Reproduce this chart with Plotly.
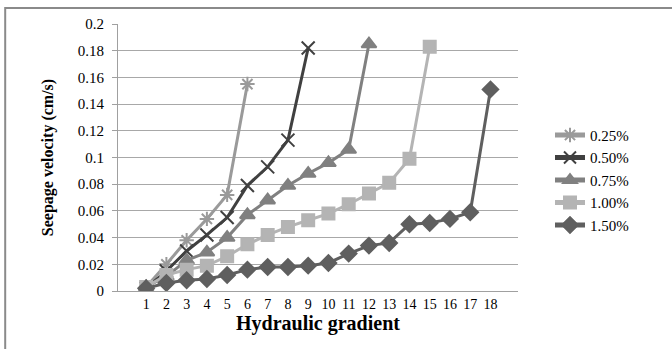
import plotly.graph_objects as go

gradients = list(range(1, 19))
series_names = ["0.25%", "0.50%", "0.75%", "1.00%", "1.50%"]
v_025 = [0.003, 0.020, 0.038, 0.054, 0.072, 0.155]
v_050 = [0.002, 0.015, 0.030, 0.042, 0.055, 0.079, 0.093, 0.113, 0.182]
v_075 = [0.003, 0.011, 0.023, 0.029, 0.040, 0.057, 0.068, 0.079, 0.088, 0.096, 0.106, 0.185]
v_100 = [0.003, 0.012, 0.016, 0.019, 0.026, 0.035, 0.042, 0.048, 0.053, 0.058, 0.065, 0.073, 0.081, 0.099, 0.183]
v_150 = [0.002, 0.006, 0.008, 0.009, 0.012, 0.016, 0.018, 0.018, 0.019, 0.021, 0.028, 0.034, 0.036, 0.050, 0.051, 0.054, 0.059, 0.151]
y_ticks = [0, 0.02, 0.04, 0.06, 0.08, 0.1, 0.12, 0.14, 0.16, 0.18, 0.2]
y_tick_text = ["0", "0.02", "0.04", "0.06", "0.08", "0.1", "0.12", "0.14", "0.16", "0.18", "0.2"]

series = [v_025, v_050, v_075, v_100, v_150]
colors = ["#9a9a9a", "#404040", "#808080", "#b4b4b4", "#5f5f5f"]
symbols = ["asterisk-open", "x-thin-open", "triangle-up", "square", "diamond"]
msizes = [12, 13, 13, 12, 12]

fig = go.Figure()
for name, vals, c, s, ms in zip(series_names, series, colors, symbols, msizes):
    fig.add_trace(go.Scatter(
        x=[str(g) for g in gradients[:len(vals)]], y=vals, name=name, mode="lines+markers",
        line=dict(color=c, width=3),
        marker=dict(symbol=s, size=ms, color=c, line=dict(color=c, width=2)),
    ))

serif = "Liberation Serif"
fig.update_layout(
    width=672, height=349,
    margin=dict(l=118, r=154, t=24, b=58),
    paper_bgcolor="white", plot_bgcolor="white",
    font=dict(family=serif, size=13, color="black"),
    showlegend=True,
    legend=dict(x=1.08, y=0.645, xanchor="left", yanchor="top",
                font=dict(family=serif, size=15), tracegroupgap=0, itemsizing="constant",
                bgcolor="rgba(0,0,0,0)"),
    xaxis=dict(type="category", categoryorder="array",
               categoryarray=[str(g) for g in gradients],
               showgrid=False, showline=True, linecolor="#a0a0a0", linewidth=1,
               ticks="", tickangle=0, tickfont=dict(family=serif, size=14),
               title=dict(text="<b>Hydraulic gradient</b>", font=dict(family=serif, size=20), standoff=5)),
    yaxis=dict(range=[0, 0.2], tickvals=y_ticks, ticktext=y_tick_text,
               showgrid=True, gridcolor="#a8a8a8", gridwidth=1,
               showline=True, linecolor="#a0a0a0", linewidth=1,
               ticks="outside", ticklen=5, tickcolor="#a0a0a0", ticklabelstandoff=5,
               tickfont=dict(family=serif, size=15), zeroline=False,
               title=dict(text="<b>Seepage velocity (cm/s)</b>", font=dict(family=serif, size=16), standoff=20)),
)
fig.add_shape(type="rect", xref="paper", yref="paper",
              x0=-0.282, x1=2.0, y0=-0.5, y1=1.06,
              line=dict(color="#8a8a8a", width=2), fillcolor="rgba(0,0,0,0)", layer="below")
fig.write_html("out.html")
